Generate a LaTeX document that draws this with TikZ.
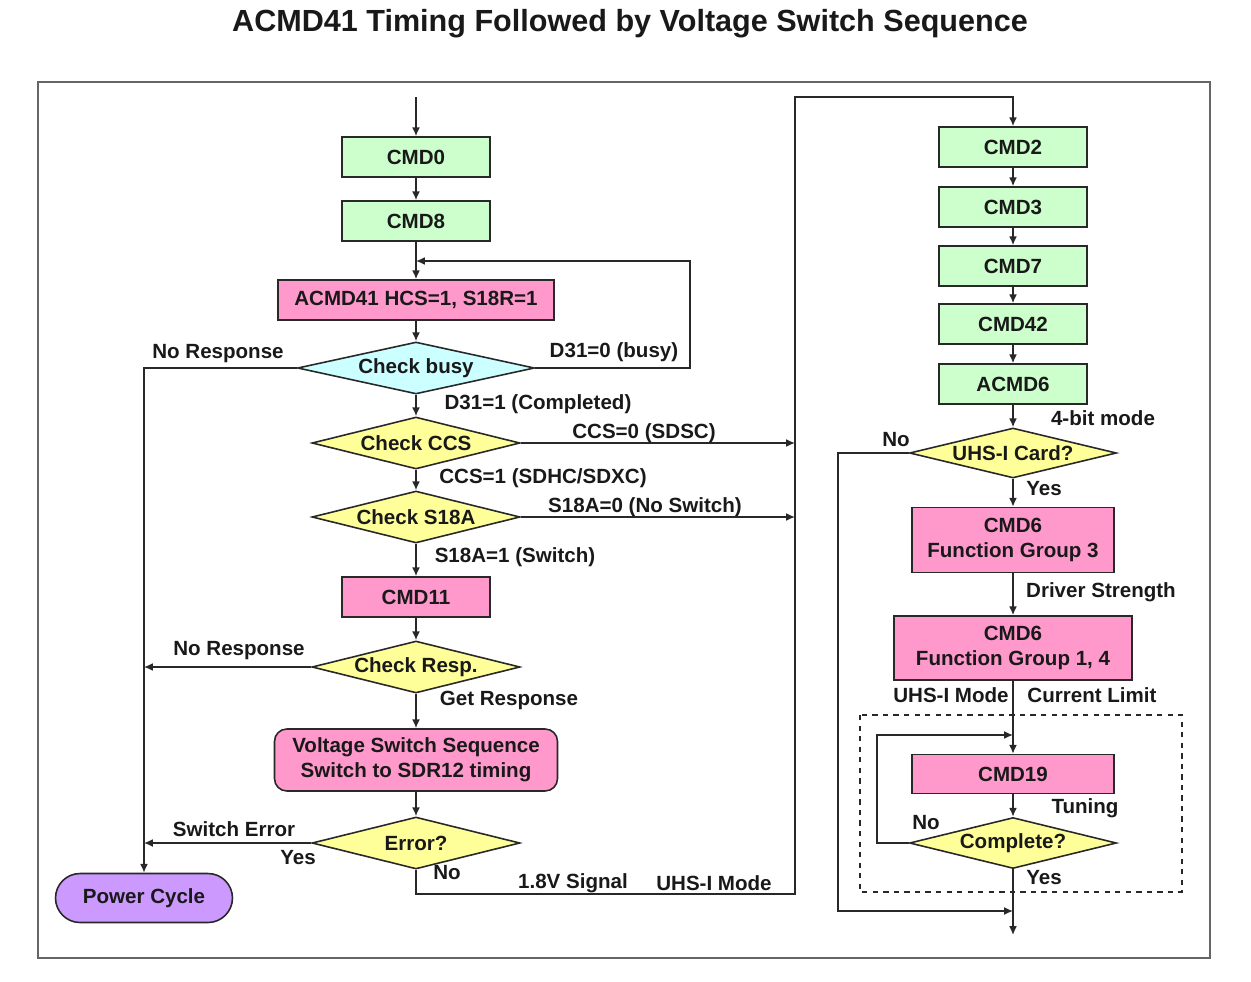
\documentclass[tikz,border=0pt]{standalone}
\usepackage{fontspec}
\setmainfont{Liberation Sans}
\usetikzlibrary{shapes.geometric,arrows.meta}
\definecolor{cmdgreen}{RGB}{204,255,204}
\definecolor{cmdpink}{RGB}{255,153,204}
\definecolor{chkyellow}{RGB}{255,255,153}
\definecolor{chkcyan}{RGB}{204,255,255}
\definecolor{pwrpurple}{RGB}{204,153,255}
\definecolor{edge}{RGB}{40,40,40}
\tikzset{
  flow/.style = {draw = edge, line width = 0.9pt, -{Latex[length=5pt,width=4.5pt]}},
  plainline/.style = {draw = edge, line width = 0.9pt},
  cmdbox/.style = {draw = edge, line width = 0.9pt, fill = cmdgreen, inner sep = 0pt, minimum width = 2.96cm, minimum height = 0.8cm},
  setbox/.style = {draw = edge, line width = 0.9pt, fill = cmdpink, inner sep = 0pt, minimum height = 0.8cm, align = center},
  decision/.style = {diamond, aspect = 4, draw = edge, line width = 0.9pt, fill = chkyellow, inner sep = 0pt, minimum width = 4.16cm, minimum height = 1.04cm},
  lbl/.style = {inner sep = 0pt}
}
\begin{document}
\begin{tikzpicture}[x = 0.02cm, y = -0.02cm, font = \bfseries\fontsize{11.7}{14}\selectfont, text = black!90]
\useasboundingbox (0,0) rectangle (1251,981);
\node [font = \bfseries\fontsize{17.4}{20}\selectfont] (title) at (630,24) {ACMD41 Timing Followed by Voltage Switch Sequence};
\draw [black!60, line width = 1.1pt] (38,82) rectangle (1210,958);
\node [cmdbox] (cmd0) at (416,157) {CMD0};
\node [cmdbox] (cmd8) at (416,221) {CMD8};
\node [setbox, minimum width = 5.52cm] (acmd41) at (416,300) {ACMD41 HCS=1, S18R=1};
\node [decision, fill = chkcyan, minimum width = 4.74cm] (busy) at (416,368) {Check busy};
\node [decision] (ccs) at (416,443) {Check CCS};
\node [decision] (s18a) at (416,517) {Check S18A};
\node [setbox, minimum width = 2.96cm] (cmd11) at (416,597) {CMD11};
\node [decision] (resp) at (416,667) {Check Resp.};
\node [setbox, rounded corners = 7pt, minimum width = 5.66cm, minimum height = 1.24cm] (vswitch) at (416,760) {Voltage Switch Sequence\\Switch to SDR12 timing};
\node [decision] (err) at (416,843) {Error?};
\node [draw = edge, line width = 0.9pt, fill = pwrpurple, rounded corners = 0.49cm, minimum width = 3.54cm, minimum height = 0.98cm] (power) at (144,898) {Power Cycle};
\node [cmdbox] (cmd2) at (1013,147) {CMD2};
\node [cmdbox] (cmd3) at (1013,207) {CMD3};
\node [cmdbox] (cmd7) at (1013,266) {CMD7};
\node [cmdbox] (cmd42) at (1013,324) {CMD42};
\node [cmdbox] (acmd6) at (1013,384) {ACMD6};
\node [decision, minimum width = 4.14cm, minimum height = 1.0cm] (uhs) at (1013,453) {UHS-I Card?};
\node [setbox, minimum width = 4.04cm, minimum height = 1.3cm] (fg3) at (1013,540) {CMD6\\Function Group 3};
\node [setbox, minimum width = 4.76cm, minimum height = 1.28cm] (fg14) at (1013,648) {CMD6\\Function Group 1, 4};
\node [setbox, minimum width = 4.04cm, minimum height = 0.78cm] (cmd19) at (1013,774) {CMD19};
\node [decision, minimum width = 4.14cm, minimum height = 1.02cm] (comp) at (1013,843) {Complete?};
\draw [edge, line width = 0.9pt, dashed] (860,715) rectangle (1182,892);
\coordinate (start) at (416,97);
\coordinate (busyret) at (690,261);
\coordinate (loopin) at (416,261);
\coordinate (uhsA) at (795,894);
\coordinate (uhsB) at (795,97);
\coordinate (nouhs) at (838,911);
\coordinate (joinpt) at (1013,911);
\coordinate (endpt) at (1013,935);
\coordinate (tunein) at (1013,735);
\draw [flow] (start) -- (cmd0);
\draw [flow] (cmd0) -- (cmd8);
\draw [flow] (cmd8) -- (acmd41);
\draw [flow] (busy.east) -| (busyret) -- (loopin);
\draw [flow] (acmd41) -- (busy);
\draw [flow] (busy) -- (ccs);
\draw [flow] (ccs) -- (s18a);
\draw [flow] (s18a) -- (cmd11);
\draw [flow] (cmd11) -- (resp);
\draw [flow] (resp) -- (vswitch);
\draw [flow] (vswitch) -- (err);
\draw [flow] (busy.west) -| (power.north);
\draw [flow] (resp.west) -- (resp.west -| power.north);
\draw [flow] (err.west) -- (err.west -| power.north);
\draw [flow] (ccs.east) -- (ccs.east -| uhsA);
\draw [flow] (s18a.east) -- (s18a.east -| uhsA);
\draw [flow] (err.south) |- (uhsA) -- (uhsB) -| (cmd2.north);
\draw [flow] (cmd2) -- (cmd3);
\draw [flow] (cmd3) -- (cmd7);
\draw [flow] (cmd7) -- (cmd42);
\draw [flow] (cmd42) -- (acmd6);
\draw [flow] (acmd6) -- (uhs);
\draw [flow] (uhs) -- (fg3);
\draw [flow] (fg3) -- (fg14);
\draw [flow] (fg14) -- (cmd19);
\draw [flow] (cmd19) -- (comp);
\draw [flow] (comp.west) -- ++(-32,0) |- (tunein);
\draw [flow] (uhs.west) -| (nouhs) -- (joinpt);
\draw [flow] (comp.south) -- (endpt);
\node [lbl] (lnr1) at (218,354) {No Response};
\node [lbl] (lbusy) at (614,352) {D31=0 (busy)};
\node [lbl] (ldone) at (538,404) {D31=1 (Completed)};
\node [lbl] (lsdsc) at (644,433) {CCS=0 (SDSC)};
\node [lbl] (lsdhc) at (543,478) {CCS=1 (SDHC/SDXC)};
\node [lbl] (lnosw) at (645,507) {S18A=0 (No Switch)};
\node [lbl] (lsw) at (515,557) {S18A=1 (Switch)};
\node [lbl] (lnr2) at (239,651) {No Response};
\node [lbl] (lget) at (509,700) {Get Response};
\node [lbl] (lswerr) at (234,829) {Switch Error};
\node [lbl] (lyes1) at (298,858) {Yes};
\node [lbl] (lno1) at (447,873) {No};
\node [lbl] (lsig) at (573,883) {1.8V Signal};
\node [lbl] (lmode1) at (714,883) {UHS-I Mode};
\node [lbl] (l4bit) at (1103,418) {4-bit mode};
\node [lbl] (lno2) at (896,440) {No};
\node [lbl] (lyes2) at (1044,489) {Yes};
\node [lbl] (ldrv) at (1101,592) {Driver Strength};
\node [lbl] (lmode2) at (951,695) {UHS-I Mode};
\node [lbl] (lcur) at (1092,695) {Current Limit};
\node [lbl] (ltune) at (1085,808) {Tuning};
\node [lbl] (lno3) at (926,823) {No};
\node [lbl] (lyes3) at (1044,878) {Yes};
\end{tikzpicture}
\end{document}
